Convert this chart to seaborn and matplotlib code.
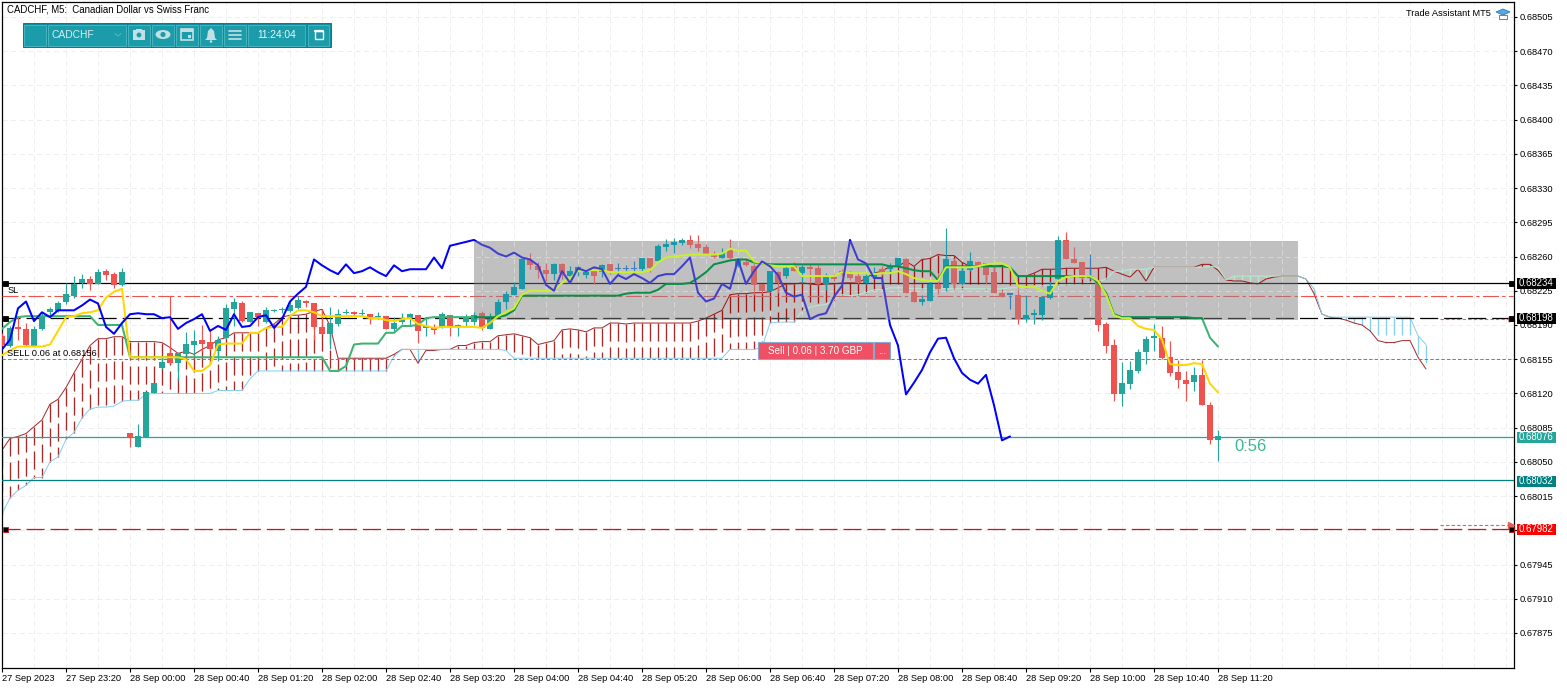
import numpy as np
import seaborn as sns
import matplotlib.pyplot as plt
from matplotlib.patches import Rectangle, Circle, Ellipse, Polygon

# all prices in points (1 point = 0.00001)
opens = [
    68179, 68169, 68187, 68186, 68169, 68186, 68203, 68204, 68213, 68220,
    68233, 68237, 68232, 68245, 68242, 68231, 68080, 68065, 68075, 68120,
    68146, 68161, 68151, 68160, 68170, 68175, 68173, 68163, 68177, 68206,
    68212, 68193, 68202, 68193, 68204, 68205, 68204, 68207, 68215, 68212,
    68188, 68181, 68191, 68202, 68203, 68201, 68201, 68198, 68199, 68186,
    68193, 68197, 68200, 68187, 68186, 68188, 68200, 68188, 68193, 68193,
    68202, 68186, 68198, 68213, 68221, 68227, 68256, 68250, 68246, 68242,
    68252, 68240, 68245, 68241, 68245, 68244, 68252, 68247, 68247, 68247,
    68247, 68259, 68255, 68270, 68272, 68274, 68277, 68273, 68270, 68263,
    68259, 68267, 68250, 68254, 68250, 68232, 68225, 68244, 68240, 68250,
    68243, 68249, 68248, 68232, 68239, 68245, 68243, 68240, 68233, 68239,
    68247, 68247, 68250, 68257, 68224, 68214, 68215, 68232, 68228, 68255,
    68232, 68246, 68254, 68253, 68244, 68223, 68221, 68221, 68196, 68200,
    68200, 68218, 68237, 68277, 68257, 68254, 68238, 68235, 68191, 68170,
    68119, 68130, 68143, 68162, 68177, 68177, 68157, 68142, 68134, 68132,
    68139, 68108, 68072,
]
highs = [
    68182, 68189, 68198, 68192, 68189, 68203, 68208, 68215, 68233, 68240,
    68242, 68240, 68247, 68247, 68244, 68248, 68080, 68089, 68121, 68131,
    68157, 68220, 68161, 68183, 68185, 68190, 68186, 68179, 68211, 68218,
    68215, 68203, 68202, 68208, 68206, 68208, 68216, 68220, 68216, 68212,
    68206, 68208, 68206, 68206, 68204, 68206, 68201, 68203, 68199, 68198,
    68202, 68202, 68200, 68198, 68191, 68203, 68200, 68191, 68201, 68203,
    68204, 68202, 68217, 68225, 68234, 68259, 68264, 68254, 68253, 68253,
    68253, 68250, 68250, 68247, 68249, 68252, 68252, 68253, 68251, 68255,
    68259, 68259, 68273, 68278, 68279, 68279, 68282, 68282, 68273, 68266,
    68269, 68278, 68259, 68259, 68252, 68232, 68245, 68245, 68250, 68254,
    68251, 68252, 68251, 68243, 68242, 68247, 68245, 68244, 68242, 68249,
    68250, 68253, 68259, 68258, 68232, 68221, 68236, 68242, 68289, 68259,
    68250, 68265, 68255, 68253, 68250, 68227, 68221, 68227, 68221, 68206,
    68220, 68235, 68281, 68285, 68270, 68254, 68263, 68235, 68193, 68176,
    68152, 68153, 68165, 68179, 68191, 68189, 68174, 68154, 68143, 68147,
    68154, 68111, 68083,
]
lows = [
    68169, 68167, 68175, 68169, 68168, 68185, 68199, 68203, 68211, 68218,
    68228, 68226, 68232, 68236, 68228, 68230, 68065, 68065, 68075, 68120,
    68145, 68150, 68134, 68159, 68158, 68162, 68164, 68153, 68176, 68189,
    68193, 68193, 68189, 68192, 68203, 68202, 68203, 68206, 68208, 68175,
    68181, 68165, 68189, 68201, 68200, 68199, 68191, 68196, 68186, 68184,
    68191, 68189, 68172, 68179, 68181, 68187, 68179, 68179, 68189, 68190,
    68185, 68186, 68198, 68206, 68221, 68227, 68247, 68238, 68235, 68236,
    68237, 68238, 68240, 68238, 68232, 68239, 68242, 68241, 68244, 68245,
    68245, 68244, 68254, 68266, 68264, 68272, 68269, 68266, 68263, 68259,
    68259, 68257, 68249, 68250, 68221, 68223, 68225, 68223, 68238, 68245,
    68233, 68233, 68232, 68226, 68235, 68240, 68236, 68232, 68232, 68237,
    68241, 68242, 68249, 68223, 68214, 68210, 68215, 68222, 68225, 68228,
    68231, 68245, 68249, 68232, 68223, 68219, 68206, 68191, 68193, 68191,
    68195, 68217, 68237, 68257, 68253, 68237, 68237, 68184, 68161, 68112,
    68107, 68125, 68141, 68150, 68163, 68155, 68138, 68126, 68112, 68122,
    68108, 68068, 68051,
]
closes = [
    68170, 68187, 68186, 68170, 68186, 68199, 68206, 68212, 68222, 68232,
    68237, 68232, 68244, 68241, 68231, 68244, 68075, 68076, 68121, 68131,
    68152, 68151, 68161, 68171, 68174, 68171, 68165, 68175, 68207, 68214,
    68194, 68203, 68198, 68205, 68205, 68205, 68210, 68216, 68212, 68188,
    68181, 68192, 68201, 68202, 68201, 68201, 68197, 68198, 68186, 68192,
    68196, 68201, 68184, 68189, 68185, 68201, 68188, 68189, 68198, 68200,
    68187, 68196, 68214, 68222, 68229, 68257, 68251, 68246, 68242, 68252,
    68243, 68245, 68249, 68244, 68240, 68251, 68245, 68247, 68247, 68247,
    68259, 68248, 68271, 68273, 68275, 68277, 68272, 68269, 68263, 68260,
    68264, 68259, 68257, 68251, 68231, 68225, 68245, 68233, 68248, 68245,
    68249, 68247, 68232, 68241, 68237, 68242, 68238, 68233, 68240, 68242,
    68242, 68250, 68259, 68223, 68214, 68217, 68232, 68227, 68257, 68232,
    68245, 68255, 68250, 68241, 68223, 68219, 68221, 68196, 68200, 68202,
    68219, 68230, 68277, 68257, 68253, 68238, 68238, 68190, 68169, 68119,
    68131, 68144, 68162, 68176, 68177, 68156, 68141, 68134, 68130, 68139,
    68108, 68072, 68076,
]
tenkan = [
    68159, 68164, 68168, 68168, 68168, 68168, 68170, 68184, 68198, 68199,
    68202, 68203, 68205, 68218, 68224, 68227, 68157, 68157, 68157, 68157,
    68157, 68157, 68157, 68155, 68143, 68143, 68149, 68170, 68171, 68171,
    68171, 68182, 68182, 68187, 68188, 68188, 68199, 68205, 68205, 68203,
    68199, 68199, 68199, 68199, 68199, 68199, 68197, 68197, 68195, 68194,
    68196, 68197, 68191, 68189, 68187, 68188, 68188, 68188, 68188, 68188,
    68187, 68192, 68199, 68203, 68207, 68221, 68225, 68225, 68225, 68225,
    68233, 68238, 68245, 68246, 68246, 68246, 68244, 68244, 68244, 68244,
    68244, 68246, 68254, 68259, 68260, 68261, 68262, 68262, 68262, 68262,
    68263, 68268, 68266, 68266, 68255, 68253, 68251, 68250, 68250, 68250,
    68240, 68240, 68240, 68240, 68240, 68244, 68243, 68243, 68243, 68242,
    68243, 68243, 68245, 68242, 68238, 68236, 68235, 68235, 68249, 68249,
    68249, 68249, 68250, 68252, 68253, 68253, 68249, 68230, 68229, 68229,
    68225, 68222, 68235, 68239, 68240, 68240, 68240, 68235, 68221, 68200,
    68197, 68197, 68189, 68186, 68185, 68175, 68150, 68149, 68149, 68151,
    68150, 68130, 68121,
]
kijun = [
    68186, 68193, 68198, 68199, 68199, 68199, 68199, 68199, 68199, 68199,
    68199, 68199, 68190, 68190, 68190, 68190, 68157, 68157, 68157, 68157,
    68157, 68157, 68157, 68157, 68157, 68157, 68157, 68157, 68157, 68157,
    68157, 68157, 68157, 68157, 68157, 68157, 68157, 68157, 68157, 68157,
    68157, 68143, 68143, 68148, 68170, 68171, 68171, 68171, 68182, 68182,
    68189, 68189, 68190, 68197, 68198, 68198, 68198, 68198, 68198, 68198,
    68198, 68198, 68198, 68200, 68205, 68220, 68220, 68220, 68220, 68220,
    68220, 68220, 68220, 68220, 68220, 68220, 68220, 68220, 68222, 68223,
    68223, 68223, 68226, 68232, 68232, 68232, 68233, 68238, 68244, 68252,
    68254, 68256, 68257, 68257, 68254, 68253, 68252, 68252, 68252, 68252,
    68252, 68252, 68252, 68252, 68252, 68252, 68252, 68252, 68252, 68252,
    68252, 68250, 68250, 68248, 68246, 68245, 68245, 68236, 68250, 68250,
    68250, 68250, 68250, 68250, 68250, 68250, 68249, 68240, 68240, 68240,
    68240, 68240, 68240, 68240, 68240, 68240, 68240, 68233, 68223, 68201,
    68198, 68198, 68198, 68198, 68198, 68198, 68198, 68198, 68198, 68197,
    68197, 68177, 68168,
]
chikou = [
    68165, 68175, 68207, 68214, 68194, 68203, 68198, 68205, 68205, 68205,
    68210, 68216, 68212, 68188, 68181, 68192, 68201, 68202, 68201, 68201,
    68197, 68198, 68186, 68192, 68196, 68201, 68184, 68189, 68185, 68201,
    68188, 68189, 68198, 68200, 68187, 68196, 68214, 68222, 68229, 68257,
    68251, 68246, 68242, 68252, 68243, 68245, 68249, 68244, 68240, 68251,
    68245, 68247, 68247, 68247, 68259, 68248, 68271, 68273, 68275, 68277,
    68272, 68269, 68263, 68260, 68264, 68259, 68257, 68251, 68231, 68225,
    68245, 68233, 68248, 68245, 68249, 68247, 68232, 68241, 68237, 68242,
    68238, 68233, 68240, 68242, 68242, 68250, 68259, 68223, 68214, 68217,
    68232, 68227, 68257, 68232, 68245, 68255, 68250, 68241, 68223, 68219,
    68221, 68196, 68200, 68202, 68219, 68230, 68277, 68257, 68253, 68238,
    68238, 68190, 68169, 68119, 68131, 68144, 68162, 68176, 68177, 68156,
    68141, 68134, 68130, 68139, 68108, 68072, 68076,
]
span_a = [
    68062, 68074, 68076, 68079, 68086, 68093, 68109, 68114, 68126, 68141,
    68155, 68169, 68176, 68176, 68178, 68178, 68173, 68173, 68173, 68173,
    68172, 68167, 68161, 68163, 68160, 68165, 68169, 68175, 68177, 68182,
    68182, 68182, 68182, 68187, 68191, 68198, 68200, 68200, 68201, 68204,
    68206, 68189, 68156, 68156, 68156, 68156, 68156, 68156, 68156, 68160,
    68165, 68165, 68151, 68164, 68164, 68165, 68165, 68169, 68169, 68172,
    68173, 68173, 68179, 68180, 68181, 68179, 68177, 68170, 68172, 68174,
    68185, 68186, 68185, 68183, 68187, 68187, 68192, 68192, 68191, 68192,
    68192, 68192, 68192, 68192, 68192, 68192, 68192, 68194, 68197, 68201,
    68205, 68221, 68222, 68222, 68223, 68223, 68224, 68228, 68232, 68232,
    68233, 68232, 68231, 68232, 68232, 68233, 68233, 68233, 68238, 68243,
    68245, 68250, 68250, 68255, 68250, 68257, 68258, 68262, 68261, 68261,
    68254, 68250, 68250, 68252, 68250, 68251, 68249, 68240, 68240, 68243,
    68247, 68247, 68247, 68248, 68248, 68248, 68248, 68248, 68249, 68245,
    68242, 68239, 68247, 68235, 68249, 68249, 68249, 68249, 68249, 68249,
    68252, 68252, 68246, 68236, 68235, 68235, 68233, 68232, 68237, 68239,
    68240, 68240, 68240, 68237, 68222, 68201, 68198, 68197, 68195, 68192,
    68190, 68184, 68174, 68172, 68172, 68174, 68174, 68157, 68145,
]
span_b = [
    67997, 68013, 68021, 68026, 68034, 68034, 68050, 68055, 68073, 68080,
    68095, 68104, 68106, 68106, 68107, 68112, 68113, 68113, 68119, 68120,
    68120, 68120, 68120, 68120, 68120, 68120, 68120, 68123, 68123, 68123,
    68123, 68135, 68143, 68143, 68143, 68143, 68143, 68143, 68143, 68143,
    68143, 68143, 68143, 68143, 68143, 68143, 68143, 68143, 68143, 68158,
    68165, 68165, 68165, 68165, 68165, 68165, 68165, 68165, 68165, 68165,
    68165, 68165, 68165, 68164, 68156, 68156, 68156, 68156, 68156, 68156,
    68156, 68156, 68156, 68156, 68156, 68156, 68156, 68156, 68156, 68156,
    68156, 68156, 68156, 68156, 68156, 68156, 68156, 68156, 68156, 68156,
    68156, 68165, 68165, 68165, 68165, 68167, 68192, 68193, 68193, 68193,
    68204, 68208, 68210, 68211, 68216, 68221, 68220, 68221, 68223, 68226,
    68226, 68228, 68228, 68228, 68227, 68227, 68227, 68227, 68227, 68227,
    68227, 68227, 68227, 68227, 68227, 68227, 68228, 68228, 68228, 68230,
    68230, 68230, 68231, 68231, 68232, 68232, 68234, 68234, 68237, 68245,
    68245, 68247, 68247, 68247, 68249, 68249, 68249, 68249, 68249, 68249,
    68249, 68250, 68249, 68236, 68240, 68240, 68240, 68240, 68240, 68240,
    68240, 68240, 68240, 68237, 68227, 68201, 68198, 68198, 68198, 68198,
    68198, 68198, 68198, 68198, 68198, 68198, 68198, 68179, 68170,
]
time_labels = [
    "27 Sep 2023", "27 Sep 23:20", "28 Sep 00:00", "28 Sep 00:40", "28 Sep 01:20",
    "28 Sep 02:00", "28 Sep 02:40", "28 Sep 03:20", "28 Sep 04:00", "28 Sep 04:40",
    "28 Sep 05:20", "28 Sep 06:00", "28 Sep 06:40", "28 Sep 07:20", "28 Sep 08:00",
    "28 Sep 08:40", "28 Sep 09:20", "28 Sep 10:00", "28 Sep 10:40", "28 Sep 11:20",
]
price_ticks = [68505, 68470, 68435, 68400, 68365, 68330, 68295, 68260, 68225, 68190,
               68155, 68120, 68085, 68050, 68015, 67980, 67945, 67910, 67875]
level_sl = 68233
level_entry = 68197
level_stop = 68220
level_sell = 68155
level_bid = 68075
level_ask = 68031
level_tp = 67981
box_start, box_end = 59, 162
box_low, box_high = 68195, 68276

normal = dict(up="#26a69a", down="#ef5350", doji="#26a69a", tenkan="#ffd700", kijun="#3cb371",
              chikou="#0000ff", brown="#a52a2a", sky="#87ceeb", black="#000000",
              stop="#ef5350", sell="#26a69a", grid="#eeeeee")
# the rectangle inverts what lies under it, so everything changes tint inside it
boxed = dict(up="#1a9aa8", down="#cf6a6a", doji="#3f7fb8", tenkan="#c8f030", kijun="#0a8f48",
             chikou="#3f3fcc", brown="#a01515", sky="#b4ecd2", black="#3c3c3c",
             stop="#c46a6a", sell="#26a69a", grid="#d6d6d6")

sns.set_theme(style="white")
plt.rcParams['font.family'] = ['Liberation Sans', 'DejaVu Sans']
plt.rcParams['lines.scale_dashes'] = False
plt.rcParams['axes.linewidth'] = 0.9

W, H = 1567, 689
fig = plt.figure(figsize=(W / 100, H / 100), dpi=100, facecolor="white")
ax = fig.add_axes([2 / W, 1 - 668 / H, 1512 / W, 666 / H])

bars = np.arange(len(closes))
o, h, l, c = map(np.array, (opens, highs, lows, closes))
cloud_x = np.arange(len(span_a))
a, b = np.array(span_a), np.array(span_b)
chikou_x = np.arange(len(chikou))
long_dash = (0, (13, 4.3))


def draw_layer(pal):
    # grid
    ax.vlines(np.arange(0, 190, 4), 67830, 68530, color=pal["grid"], lw=0.72,
              linestyle=(0, (3.6, 2.6)), zorder=1)
    ax.hlines(price_ticks, 0, 189, color=pal["grid"], lw=0.72,
              linestyle=(0, (3.6, 2.6)), zorder=1)

    # ichimoku cloud, hatches start at the top so the dashes fall the same way
    over = a > b
    under = a < b
    ax.vlines(cloud_x[over], a[over], b[over], color=pal["brown"], lw=0.95, linestyle=long_dash, zorder=2)
    ax.vlines(cloud_x[under], b[under], a[under], color=pal["sky"], lw=0.95, linestyle=long_dash, zorder=2)
    sns.lineplot(x=cloud_x, y=a, ax=ax, color=pal["brown"], lw=0.72, estimator=None, legend=False, zorder=2)
    sns.lineplot(x=cloud_x, y=b, ax=ax, color=pal["sky"], lw=0.72, estimator=None, legend=False, zorder=2)

    # price levels
    ax.axhline(level_sl, color=pal["black"], lw=0.9, zorder=3)
    ax.axhline(level_entry, color=pal["black"], lw=0.9, linestyle=long_dash, zorder=3)
    ax.axhline(level_stop, color=pal["stop"], lw=0.8, linestyle=(0, (11.5, 2.4, 2.4, 2.4)), zorder=3)
    ax.axhline(level_sell, color=pal["sell"], lw=0.72, linestyle=(0, (2.4, 1.6)), zorder=3)
    ax.axhline(level_bid, color="#26a69a", lw=0.9, zorder=3)
    ax.axhline(level_ask, color="#008080", lw=0.9, zorder=3)
    ax.axhline(level_tp, color="#d01414", lw=0.9, linestyle=long_dash, zorder=3)

    # candles
    up = c > o
    down = c < o
    flat = c == o
    for mask, col in ((up, pal["up"]), (down, pal["down"]), (flat, pal["doji"])):
        ax.vlines(bars[mask], l[mask], h[mask], color=col, lw=0.85, zorder=4)
        body_low = np.minimum(o, c)[mask]
        body_h = np.maximum(np.abs(c - o)[mask], 1.6)
        ax.bar(bars[mask], body_h, bottom=body_low, width=0.68, color=col, lw=0, zorder=4)

    # indicator lines
    sns.lineplot(x=bars, y=kijun, ax=ax, color=pal["kijun"], lw=1.45, estimator=None, legend=False, zorder=5)
    sns.lineplot(x=bars, y=tenkan, ax=ax, color=pal["tenkan"], lw=1.45, estimator=None, legend=False, zorder=6)
    sns.lineplot(x=chikou_x, y=chikou, ax=ax, color=pal["chikou"], lw=1.45, estimator=None, legend=False, zorder=7)


draw_layer(normal)

box = Rectangle((box_start, box_low), box_end - box_start, box_high - box_low,
                fc="#c0c0c0", ec="none", zorder=10)
ax.add_patch(box)
before = set(ax.get_children())
draw_layer(boxed)
for art in set(ax.get_children()) - before:
    art.set_zorder(art.get_zorder() + 10)
    art.set_clip_path(box)

# pending order arrows on the right
ax.hlines([level_entry - 1, level_tp + 4], 179.75, 188.5, color="#e0605a", lw=0.8,
          linestyle=(0, (2.4, 1.6)), zorder=22)
ax.plot([188.6], [level_entry - 1], marker=">", ms=3.5, color="#e0605a", zorder=22)
ax.plot([188.6], [level_tp + 4], marker=">", ms=5, color="#e0605a", zorder=22)

ax.set_xlim(0, 189)
ax.set_ylim(67839.2, 68520.3)
ax.set_xlabel("")
ax.set_ylabel("")
ax.set_xticks(np.arange(0, 160, 8))
ax.set_xticklabels(time_labels, fontsize=6.7, ha="left", color="black")
ax.yaxis.tick_right()
ax.set_yticks(price_ticks)
ax.set_yticklabels([f"0.{p}" for p in price_ticks], fontsize=6.7, color="black")
ax.tick_params(axis="x", length=3, width=0.8, pad=1.2, bottom=True, color="black")
ax.tick_params(axis="y", length=2.4, width=0.8, pad=1.4, right=True, color="black")
for s in ax.spines.values():
    s.set_color("black")

# chrome in pixel coordinates
ui = fig.add_axes([0, 0, 1, 1], facecolor="none")
ui.set_xlim(0, W)
ui.set_ylim(H, 0)
ui.axis("off")

ui.text(7, 9, "CADCHF, M5:  Canadian Dollar vs Swiss Franc", fontsize=6.9, va="center", color="black")
ui.text(1406, 14, "Trade Assistant MT5", fontsize=6.7, va="center", color="black")
ui.add_patch(Polygon([(1496, 12), (1503, 9), (1510, 12), (1503, 15)], fc="#5aa8e0", ec="#2a78b8", lw=0.6))
ui.add_patch(Polygon([(1499, 15), (1507, 15), (1507, 19), (1499, 19)], fc="white", ec="#2a78b8", lw=0.6))
ui.text(8, 290.5, "SL", fontsize=6.7, va="center", color="black")
ui.text(7, 353, "SELL 0.06 at 0.68156", fontsize=6.7, va="center", color="black")
ui.text(1234, 446.5, "0:56", fontsize=12, va="center", color="#3cb890")

# toolbar
ui.add_patch(Rectangle((23, 23), 308, 24, fc="#0f8c9c", ec="#0a7a88", lw=0.7))
cells = [(24, 46), (48, 126), (128, 150), (152, 174), (176, 198), (200, 222), (224, 246), (248, 305), (308, 329)]
for x0, x1 in cells:
    ui.add_patch(Rectangle((x0, 25), x1 - x0, 20.5, fc="#1b9cab", ec="#47b4bf", lw=0.7))
icon = "#c4dfe3"
ui.text(51, 35, "CADCHF", fontsize=7.4, va="center", color="#d8eef0")
ui.plot([115, 118, 121], [33.5, 36, 33.5], color="#5ab0ba", lw=0.8)
ui.text(276.5, 35, "11:24:04", fontsize=7.4, va="center", ha="center", color="#e8f6f7")
ui.add_patch(Rectangle((133, 30), 12, 9.5, fc=icon, ec="none"))
ui.add_patch(Rectangle((136, 28.5), 6, 2, fc=icon, ec="none"))
ui.add_patch(Circle((139, 35), 2.4, fc="#1b9cab", ec="none"))
ui.add_patch(Ellipse((163, 34.5), 15, 9, fc=icon, ec="none"))
ui.add_patch(Circle((163, 34.5), 2.6, fc="#1b9cab", ec="none"))
ui.add_patch(Rectangle((181, 29), 12, 11, fc="none", ec=icon, lw=1.2))
ui.add_patch(Rectangle((181, 29), 12, 3, fc=icon, ec="none"))
ui.add_patch(Rectangle((188, 35), 3, 3, fc=icon, ec="none"))
ui.add_patch(Polygon([(211, 28), (214, 31), (215, 38), (217, 40), (205, 40), (207, 38), (208, 31)], fc=icon, ec="none"))
ui.add_patch(Circle((211, 41.5), 1.3, fc=icon, ec="none"))
ui.plot([229, 241], [30.5, 30.5], color=icon, lw=1.2)
ui.plot([229, 241], [34.5, 34.5], color=icon, lw=1.2)
ui.plot([229, 241], [38.5, 38.5], color=icon, lw=1.2)
ui.add_patch(Rectangle((314.5, 31), 8, 8, fc="none", ec="white", lw=1.0))
ui.plot([315, 323], [30.6, 30.6], color="white", lw=1.6)

# open position tag
ui.add_patch(Rectangle((758, 342), 115, 17, fc="#ef5064", ec="#88a8d0", lw=0.8))
ui.add_patch(Rectangle((874, 342), 16, 17, fc="#ef5064", ec="#88a8d0", lw=0.8))
ui.text(815.5, 351, "Sell | 0.06 | 3.70 GBP", fontsize=7.1, va="center", ha="center", color="white")
ui.text(882, 351, "...", fontsize=7.1, va="center", ha="center", color="white")

# line end squares and price tags
for y_px in (283, 318, 529):
    edge = "#d01414" if y_px == 529 else "black"
    ui.add_patch(Rectangle((3, y_px - 2.5), 5, 5, fc="black", ec=edge, lw=0.6))
    ui.add_patch(Rectangle((1508.5, y_px - 2.5), 5, 5, fc="black", ec=edge, lw=0.6))

tags = [(283, "0.68234", "black"), (318, "0.68198", "black"), (437, "0.68076", "#26a69a"),
        (481, "0.68032", "#008080"), (529, "0.67982", "#ff0000")]
for y_px, txt, col in tags:
    ui.add_patch(Rectangle((1517, y_px - 5.5), 39, 11, fc=col, ec="none"))
    ui.text(1519, y_px, txt, fontsize=6.9, va="center", color="white")

fig.savefig("out.png", dpi=100)
